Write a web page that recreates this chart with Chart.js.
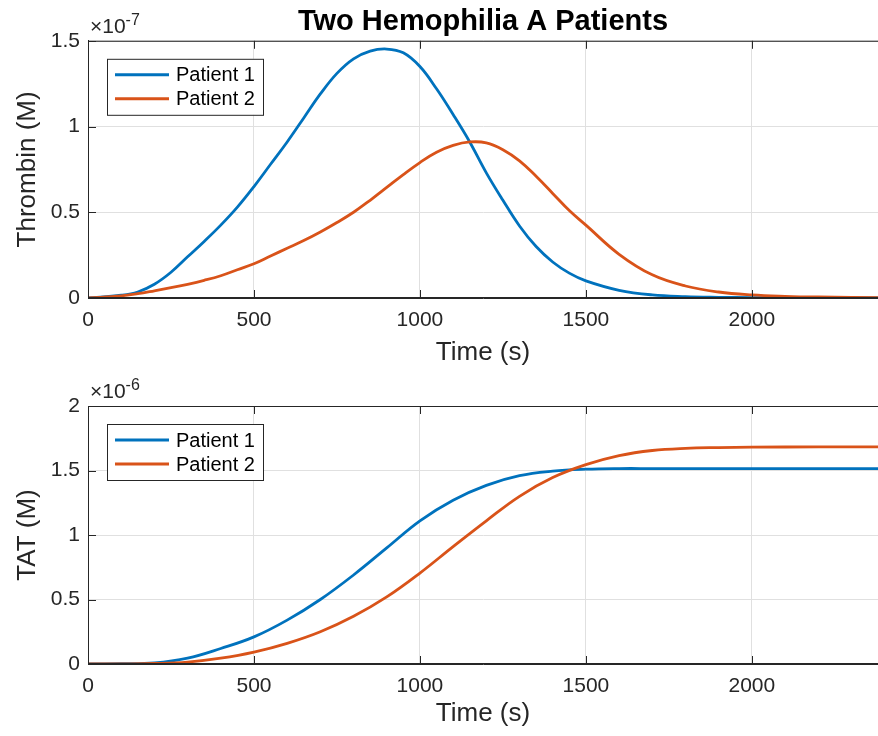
<!DOCTYPE html>
<html>
<head>
<meta charset="utf-8">
<title>Two Hemophilia A Patients</title>
<script src="https://cdn.jsdelivr.net/npm/chart.js@4.4.1/dist/chart.umd.min.js"></script>
<style>
  html, body { margin: 0; padding: 0; background: #fff; }
  .panel { width: 878px; height: 368px; }
  canvas { display: block; }
</style>
</head>
<body>
<div class="panel"><canvas id="thrombin" width="878" height="368"></canvas></div>
<div class="panel"><canvas id="tat" width="878" height="368"></canvas></div>
<script>
// thrombin in units of 1e-7 M, TAT in units of 1e-6 M, time in seconds
const SERIES_LABELS = ["Patient 1", "Patient 2"];

const THROMBIN_T  = [0, 100, 150, 200, 250, 300, 350, 400, 450, 500, 550, 600, 650, 700, 750, 800, 850, 900, 950, 1000,
                     1050, 1100, 1150, 1200, 1250, 1300, 1350, 1400, 1450, 1500, 1600, 1700, 1800, 1900, 2000, 2100, 2200, 2400];
const THROMBIN_P1 = [0, 0.016, 0.035, 0.08, 0.15, 0.24, 0.33, 0.425, 0.53, 0.65, 0.78, 0.91, 1.05, 1.19, 1.31, 1.395, 1.44, 1.452, 1.43, 1.35,
                     1.22, 1.07, 0.91, 0.73, 0.57, 0.42, 0.30, 0.21, 0.145, 0.10, 0.045, 0.018, 0.008, 0.004, 0.002, 0.001, 0.0005, 0];
const THROMBIN_P2 = [0, 0.012, 0.025, 0.042, 0.06, 0.08, 0.103, 0.13, 0.165, 0.20, 0.245, 0.29, 0.335, 0.385, 0.44, 0.50, 0.57, 0.645, 0.72, 0.79,
                     0.85, 0.89, 0.91, 0.905, 0.865, 0.80, 0.71, 0.61, 0.51, 0.425, 0.255, 0.135, 0.07, 0.035, 0.018, 0.01, 0.006, 0.002];

const TAT_T  = [0, 100, 200, 300, 400, 500, 600, 700, 800, 900, 1000, 1100, 1200, 1300, 1400, 1500, 1600, 1700, 1800, 1900, 2000, 2200, 2400];
const TAT_P1 = [0, 0.002, 0.008, 0.045, 0.12, 0.21, 0.34, 0.50, 0.69, 0.90, 1.11, 1.27, 1.385, 1.46, 1.495, 1.51, 1.515, 1.515, 1.515, 1.515, 1.515, 1.515, 1.515];
const TAT_P2 = [0, 0.001, 0.004, 0.015, 0.045, 0.092, 0.16, 0.25, 0.37, 0.52, 0.705, 0.91, 1.11, 1.30, 1.445, 1.545, 1.615, 1.655, 1.672, 1.678, 1.681, 1.683, 1.683];

const X_TICKS        = [0, 500, 1000, 1500, 2000];
const THROMBIN_TICKS = [0, 0.5, 1, 1.5];
const TAT_TICKS      = [0, 0.5, 1, 1.5, 2];
const X_MAX = 2380;

const BLUE   = "#0072BD";
const ORANGE = "#D95319";
const INK    = "#262626";
const GRID   = "#e0e0e0";
const FONT   = 'Helvetica, Arial, "Liberation Sans", sans-serif';

// MATLAB-ish axes decorations: closed top edge, inward ticks, exponent, boxed legend
const matlabAxes = {
  id: "matlabAxes",
  afterDatasetsDraw(chart, args, opts) {
    const { ctx, chartArea: a, scales: { x, y } } = chart;
    const len = 8;
    ctx.save();
    ctx.strokeStyle = INK;
    ctx.lineWidth = 1;
    ctx.beginPath();
    ctx.moveTo(a.left, a.top + 0.5);
    ctx.lineTo(a.right, a.top + 0.5);
    ctx.moveTo(a.left + 0.5, a.top);
    ctx.lineTo(a.left + 0.5, a.bottom);
    ctx.moveTo(a.left, a.bottom - 0.5);
    ctx.lineTo(a.right, a.bottom - 0.5);
    x.ticks.forEach(t => {
      const px = Math.round(x.getPixelForValue(t.value)) + 0.5;
      ctx.moveTo(px, a.bottom); ctx.lineTo(px, a.bottom - len);
      ctx.moveTo(px, a.top);    ctx.lineTo(px, a.top + len);
    });
    y.ticks.forEach(t => {
      const py = Math.round(y.getPixelForValue(t.value)) + 0.5;
      ctx.moveTo(a.left, py); ctx.lineTo(a.left + len, py);
    });
    ctx.stroke();

    // x10^n multiplier above the y axis
    ctx.fillStyle = INK;
    ctx.textAlign = "left";
    ctx.textBaseline = "alphabetic";
    ctx.font = `21px ${FONT}`;
    const base = "\u00d710";
    ctx.fillText(base, a.left + 2, a.top - 8);
    const w = ctx.measureText(base).width;
    ctx.font = `16px ${FONT}`;
    ctx.fillText(opts.exponent, a.left + 2 + w, a.top - 16);

    // legend box in the upper-left corner
    const bx = a.left + 19, by = a.top + 18, bw = 156, bh = 56;
    ctx.fillStyle = "#fff";
    ctx.fillRect(bx, by, bw, bh);
    ctx.strokeStyle = INK;
    ctx.lineWidth = 1;
    ctx.strokeRect(bx + 0.5, by + 0.5, bw, bh);
    ctx.font = `20px ${FONT}`;
    ctx.textBaseline = "middle";
    chart.data.datasets.forEach((ds, i) => {
      const ly = by + 16 + i * 24;
      ctx.strokeStyle = ds.borderColor;
      ctx.lineWidth = 3;
      ctx.beginPath();
      ctx.moveTo(bx + 8, ly);
      ctx.lineTo(bx + 62, ly);
      ctx.stroke();
      ctx.fillStyle = "#000";
      ctx.fillText(ds.label, bx + 69, ly + 1);
    });
    ctx.restore();
  }
};

function series(times, values) {
  return times.map((t, i) => ({ x: t, y: values[i] }));
}

function makePanel(canvasId, cfg) {
  const datasets = [
    { label: SERIES_LABELS[0], data: series(cfg.times, cfg.p1), borderColor: BLUE, order: 1 },
    { label: SERIES_LABELS[1], data: series(cfg.times, cfg.p2), borderColor: ORANGE, order: 0 },
  ].map(d => Object.assign(d, {
    borderWidth: 2.8, pointRadius: 0, fill: false,
    tension: 0.4, borderJoinStyle: "round",
  }));

  return new Chart(document.getElementById(canvasId), {
    type: "line",
    data: { datasets },
    options: {
      responsive: false,
      animation: false,
      events: [],
      layout: { padding: { top: cfg.padTop, left: 0, right: 0, bottom: 0 } },
      plugins: {
        legend: { display: false },
        tooltip: { enabled: false },
        title: {
          display: !!cfg.title,
          text: cfg.title || "",
          fullSize: false,
          color: "#000",
          font: { size: 29, weight: "bold", family: FONT },
          padding: { top: 5, bottom: 1 },
        },
        matlabAxes: { exponent: cfg.exponent },
      },
      scales: {
        x: {
          type: "linear",
          min: 0,
          max: X_MAX,
          afterBuildTicks: s => { s.ticks = X_TICKS.map(value => ({ value })); },
          afterFit: s => { s.height = cfg.xHeight; },
          grid: { color: GRID, drawTicks: false },
          border: { color: INK },
          ticks: { color: INK, font: { size: 21, family: FONT }, padding: 10, maxRotation: 0, callback: v => String(v) },
          title: { display: true, text: "Time (s)", color: INK, font: { size: 26, family: FONT }, padding: { top: 0, bottom: cfg.xTitlePad } },
        },
        y: {
          min: 0,
          max: cfg.yMax,
          afterBuildTicks: s => { s.ticks = cfg.yTicks.map(value => ({ value })); },
          afterFit: s => { s.width = 88; },
          grid: { color: GRID, drawTicks: false },
          border: { color: INK },
          ticks: { color: INK, font: { size: 21, family: FONT }, padding: 8, callback: v => String(v) },
          title: { display: true, text: cfg.yTitle, color: INK, font: { size: 26, family: FONT }, padding: { top: 12 } },
        },
      },
    },
    plugins: [matlabAxes],
  });
}

makePanel("thrombin", {
  times: THROMBIN_T, p1: THROMBIN_P1, p2: THROMBIN_P2,
  yMax: 1.5, yTicks: THROMBIN_TICKS, yTitle: "Thrombin (M)", exponent: "-7",
  title: "Two Hemophilia A Patients", padTop: 0, xHeight: 70, xTitlePad: 0,
});

makePanel("tat", {
  times: TAT_T, p1: TAT_P1, p2: TAT_P2,
  yMax: 2, yTicks: TAT_TICKS, yTitle: "TAT (M)", exponent: "-6",
  title: null, padTop: 38, xHeight: 72, xTitlePad: 7,
});
</script>
</body>
</html>
